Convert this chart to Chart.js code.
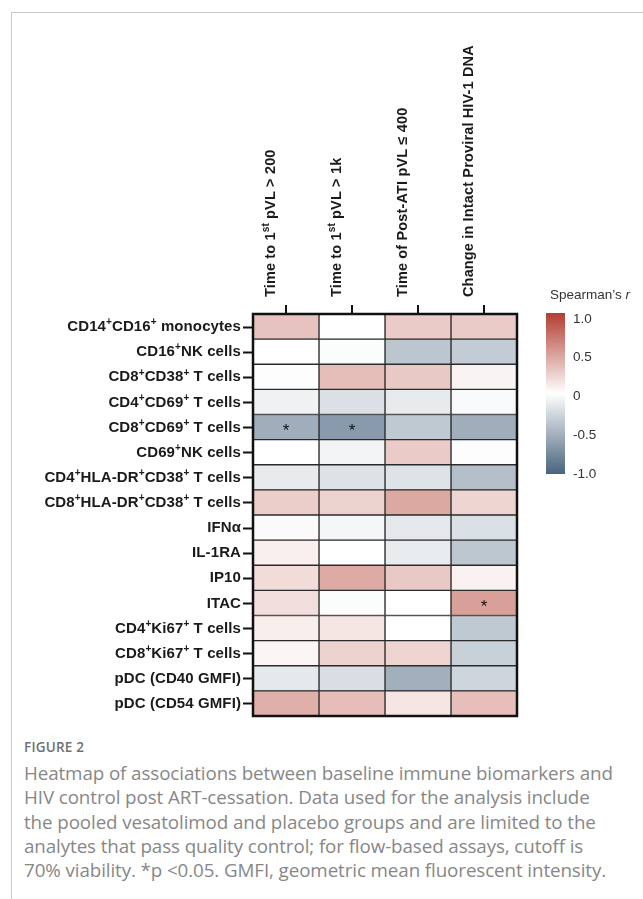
<!DOCTYPE html>
<html>
<head>
<meta charset="utf-8">
<script src="https://cdn.jsdelivr.net/npm/chart.js@4.4.1/dist/chart.umd.min.js"></script>
<style>
  html, body { margin: 0; padding: 0; background: #fff; }
  body { width: 643px; height: 899px; position: relative; overflow: hidden; font-family: "Liberation Sans", Arial, sans-serif; }
  #frame { position: absolute; left: 11px; top: 12px; right: 0; bottom: 0; border-left: 1px solid #c8c8c8; border-top: 1px solid #c8c8c8; }
  #plot { position: absolute; left: 0; top: 0; }
  #caption { position: absolute; left: 24px; top: 738px; width: 619px; font-family: "Open Sans", sans-serif; color: #878787; }
  #caption .fig { font-size: 13.5px; font-weight: 600; color: #707070; letter-spacing: 0.2px; }
  #caption .txt { font-size: 18.8px; line-height: 24.3px; margin-top: 5px; white-space: nowrap; letter-spacing: -0.1px; }
</style>
</head>
<body>
<div id="frame"></div>
<canvas id="plot" width="643" height="730"></canvas>
<div id="caption">
  <div class="fig">FIGURE 2</div>
  <div class="txt">Heatmap of associations between baseline immune biomarkers and<br>HIV control post ART-cessation. Data used for the analysis include<br>the pooled vesatolimod and placebo groups and are limited to the<br>analytes that pass quality control; for flow-based assays, cutoff is<br>70% viability. *p &lt;0.05. GMFI, geometric mean fluorescent intensity.</div>
</div>
<script>
// Biomarkers (rows); ^{...} marks superscript text
const rows = [
  "CD14^{+}CD16^{+} monocytes",
  "CD16^{+}NK cells",
  "CD8^{+}CD38^{+} T cells",
  "CD4^{+}CD69^{+} T cells",
  "CD8^{+}CD69^{+} T cells",
  "CD69^{+}NK cells",
  "CD4^{+}HLA-DR^{+}CD38^{+} T cells",
  "CD8^{+}HLA-DR^{+}CD38^{+} T cells",
  "IFNα",
  "IL-1RA",
  "IP10",
  "ITAC",
  "CD4^{+}Ki67^{+} T cells",
  "CD8^{+}Ki67^{+} T cells",
  "pDC (CD40 GMFI)",
  "pDC (CD54 GMFI)"
];

// Outcomes (columns)
const columns = [
  "Time to 1^{st} pVL > 200",
  "Time to 1^{st} pVL > 1k",
  "Time of Post-ATI pVL ≤ 400",
  "Change in Intact Proviral HIV-1 DNA"
];

// Spearman's r per outcome, one value per biomarker
const timeTo200       = [0.31, 0.00, 0.01, -0.09, -0.52, 0.00, -0.13, 0.26, -0.03, 0.08, 0.18, 0.17, 0.09, 0.05, -0.14, 0.41];
const timeTo1k        = [0.00, -0.02, 0.34, -0.20, -0.65, -0.07, -0.19, 0.23, -0.06, 0.00, 0.44, -0.02, 0.13, 0.23, -0.21, 0.34];
const timePostAti400  = [0.27, -0.37, 0.28, -0.13, -0.35, 0.27, -0.18, 0.45, -0.15, -0.12, 0.28, 0.00, 0.00, 0.22, -0.51, 0.13];
const intactDnaChange = [0.27, -0.33, 0.06, -0.04, -0.52, -0.01, -0.41, 0.22, -0.20, -0.36, 0.07, 0.49, -0.35, -0.30, -0.27, 0.33];

// p < 0.05 flags, same layout as the values
const sigTo200       = [0,0,0,0,1,0,0,0,0,0,0,0,0,0,0,0];
const sigTo1k        = [0,0,0,0,1,0,0,0,0,0,0,0,0,0,0,0];
const sigPostAti400  = [0,0,0,0,0,0,0,0,0,0,0,0,0,0,0,0];
const sigIntactDna   = [0,0,0,0,0,0,0,0,0,0,0,1,0,0,0,0];

// Colour bar tick labels
const legendTicks = ["1.0", "0.5", "0", "-0.5", "-1.0"];
const legendTickValues = [1, 0.5, 0, -0.5, -1];

const series = [timeTo200, timeTo1k, timePostAti400, intactDnaChange];
const sigs = [sigTo200, sigTo1k, sigPostAti400, sigIntactDna];

const RED = [178, 62, 48], BLUE = [72, 100, 125];
function colorFor(r) {
  const end = r >= 0 ? RED : BLUE;
  const t = Math.min(1, Math.abs(r));
  const c = end.map(v => Math.round(255 + (v - 255) * t));
  return `rgb(${c[0]},${c[1]},${c[2]})`;
}

function parseRich(s) {
  const out = []; const re = /\^\{([^}]*)\}/g; let last = 0, m;
  while ((m = re.exec(s))) {
    if (m.index > last) out.push({ t: s.slice(last, m.index), sup: false });
    out.push({ t: m[1], sup: true });
    last = re.lastIndex;
  }
  if (last < s.length) out.push({ t: s.slice(last), sup: false });
  return out;
}
function richWidth(ctx, segs, font, supFont) {
  let w = 0;
  for (const g of segs) { ctx.font = g.sup ? supFont : font; w += ctx.measureText(g.t).width; }
  return w;
}
function drawRich(ctx, segs, x, y, font, supFont, rise) {
  let cx = x; ctx.textAlign = 'left';
  for (const g of segs) {
    ctx.font = g.sup ? supFont : font;
    ctx.fillText(g.t, cx, g.sup ? y - rise : y);
    cx += ctx.measureText(g.t).width;
  }
}

const ROW_FONT = 'bold 15px "Liberation Sans", Arial, sans-serif';
const COL_FONT = 'bold 14.5px "Liberation Sans", Arial, sans-serif';
const SUP_FONT = 'bold 10px "Liberation Sans", Arial, sans-serif';

const decorations = {
  id: 'heatmapDecorations',
  afterDatasetsDraw(chart) {
    const { ctx, chartArea: a, scales: { x, y } } = chart;
    ctx.save();
    ctx.strokeStyle = '#111';
    ctx.fillStyle = '#111';

    // outer frame
    ctx.lineWidth = 2.5;
    ctx.strokeRect(a.left, a.top, a.right - a.left, a.bottom - a.top);

    // tick marks
    ctx.lineWidth = 2;
    rows.forEach((r, i) => {
      const py = Math.round(y.getPixelForValue(i)) + 0.5;
      ctx.beginPath(); ctx.moveTo(a.left - 10, py); ctx.lineTo(a.left, py); ctx.stroke();
    });
    columns.forEach((c, j) => {
      const px = Math.round(x.getPixelForValue(j + 0.5));
      ctx.beginPath(); ctx.moveTo(px, a.top - 9); ctx.lineTo(px, a.top); ctx.stroke();
    });

    // row labels
    ctx.textBaseline = 'middle';
    ctx.fillStyle = '#1a1a1a';
    if ('letterSpacing' in ctx) ctx.letterSpacing = '0.1px';
    rows.forEach((r, i) => {
      const segs = parseRich(r);
      const w = richWidth(ctx, segs, ROW_FONT, SUP_FONT);
      const py = y.getPixelForValue(i) + 0.5;
      drawRich(ctx, segs, a.left - 12 - w, py, ROW_FONT, SUP_FONT, 4.5);
    });

    // column labels, rotated to read upward
    if ('letterSpacing' in ctx) ctx.letterSpacing = '0.15px';
    columns.forEach((c, j) => {
      const px = x.getPixelForValue(j + 0.5);
      ctx.save();
      ctx.translate(px - 15, a.top - 17);
      ctx.rotate(-Math.PI / 2);
      drawRich(ctx, parseRich(c), 0, 0, COL_FONT, SUP_FONT, 4.5);
      ctx.restore();
    });
    if ('letterSpacing' in ctx) ctx.letterSpacing = '0px';

    // significance markers
    ctx.font = '17px "Liberation Sans", Arial, sans-serif';
    ctx.textAlign = 'center';
    ctx.fillStyle = '#111';
    sigs.forEach((flags, j) => {
      flags.forEach((f, i) => {
        if (f) ctx.fillText('*', x.getPixelForValue(j + 0.5), y.getPixelForValue(i) + 4);
      });
    });

    // colour bar
    const bx = 546, by = 313, bw = 19, bh = 161;
    const g = ctx.createLinearGradient(0, by, 0, by + bh);
    g.addColorStop(0, colorFor(1));
    g.addColorStop(0.5, colorFor(0));
    g.addColorStop(1, colorFor(-1));
    ctx.fillStyle = g;
    ctx.fillRect(bx, by, bw, bh);

    ctx.fillStyle = '#333';
    ctx.textAlign = 'left';
    ctx.textBaseline = 'middle';
    ctx.font = '13.5px "Liberation Sans", Arial, sans-serif';
    legendTicks.forEach((t, k) => {
      const v = legendTickValues[k];
      const py = by + 6 + (1 - v) / 2 * (bh - 6);
      ctx.fillText(t, 573, py);
    });

    // colour bar title
    ctx.font = '13.5px "Liberation Sans", Arial, sans-serif';
    ctx.fillText("Spearman’s ", 550, 295);
    const tw = ctx.measureText("Spearman’s ").width;
    ctx.font = 'italic 13.5px "Liberation Sans", Arial, sans-serif';
    ctx.fillText("r", 550 + tw, 295);

    ctx.restore();
  }
};

new Chart(document.getElementById('plot'), {
  type: 'bar',
  data: {
    labels: rows,
    datasets: series.map((vals, j) => ({
      label: columns[j],
      data: vals.map(() => [j, j + 1]),
      backgroundColor: vals.map(colorFor),
      borderColor: '#2b2b2b',
      borderWidth: 1,
      borderSkipped: false,
      grouped: false,
      barPercentage: 1,
      categoryPercentage: 1
    }))
  },
  options: {
    indexAxis: 'y',
    responsive: false,
    animation: false,
    devicePixelRatio: 1,
    layout: { padding: { left: 253, right: 126, top: 314, bottom: 14 } },
    plugins: { legend: { display: false }, tooltip: { enabled: false } },
    scales: {
      x: { type: 'linear', min: 0, max: 4, display: false },
      y: { type: 'category', display: false, offset: true }
    }
  },
  plugins: [decorations]
});
</script>
</body>
</html>
